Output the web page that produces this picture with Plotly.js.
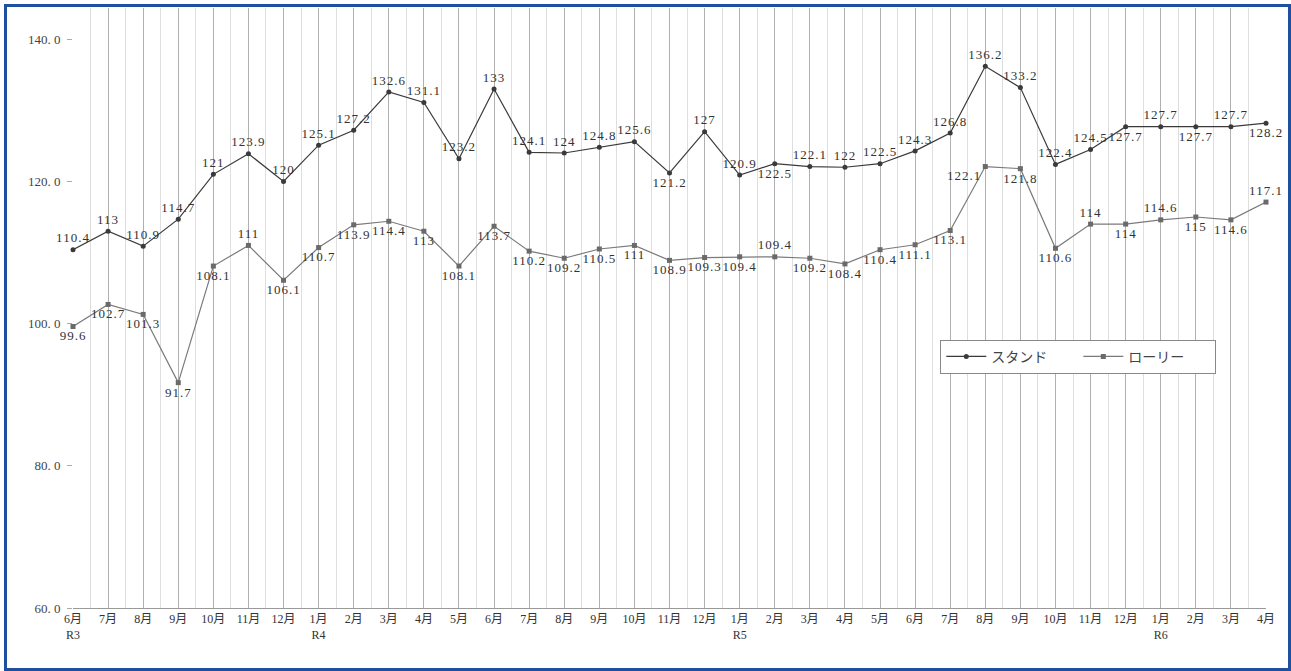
<!DOCTYPE html>
<html>
<head>
<meta charset="utf-8">
<script src="https://cdn.plot.ly/plotly-3.0.1.min.js"></script>
<style>
html,body{margin:0;padding:0;background:#fff;}
#frame{position:absolute;left:4px;top:4px;width:1287px;height:667px;border:3px solid #1f4f9f;box-sizing:border-box;}
#chart{position:absolute;left:7px;top:7px;width:1281px;height:661px;}
#chart .textpoint text{letter-spacing:1px;}
</style>
</head>
<body>
<div id="frame"></div>
<div id="chart"></div>
<script>
const months = ["6月","7月","8月","9月","10月","11月","12月",
  "1月","2月","3月","4月","5月","6月","7月","8月","9月","10月","11月","12月",
  "1月","2月","3月","4月","5月","6月","7月","8月","9月","10月","11月","12月",
  "1月","2月","3月","4月"];
const eraMarks = {0:"R3", 7:"R4", 19:"R5", 31:"R6"};
const stand = [110.4,113,110.9,114.7,121,123.9,120,
  125.1,127.2,132.6,131.1,123.2,133,124.1,124,124.8,125.6,121.2,127,
  120.9,122.5,122.1,122,122.5,124.3,126.8,136.2,133.2,122.4,124.5,127.7,
  127.7,127.7,127.7,128.2];
const lorry = [99.6,102.7,101.3,91.7,108.1,111,106.1,
  110.7,113.9,114.4,113,108.1,113.7,110.2,109.2,110.5,111,108.9,109.3,
  109.4,109.4,109.2,108.4,110.4,111.1,113.1,122.1,121.8,110.6,114,114,
  114.6,115,114.6,117.1];
const standPos = ["top center","top center","top center","top center","top center","top center","top center",
  "top center","top center","top center","top center","top center","top center","top center","top center","top center","top center","bottom center","top center",
  "top center","bottom center","top center","top center","top center","top center","top center","top center","top center","top center","top center","bottom center",
  "top center","bottom center","top center","bottom center"];
const lorryPos = ["bottom center","bottom center","bottom center","bottom center","bottom center","top center","bottom center",
  "bottom center","bottom center","bottom center","bottom center","bottom center","bottom center","bottom center","bottom center","bottom center","bottom center","bottom center","bottom center",
  "bottom center","top center","bottom center","bottom center","bottom center","bottom center","bottom center","bottom left","bottom center","bottom center","top center","bottom center",
  "top center","bottom center","bottom center","top center"];
const yTicks = [60,80,100,120,140];
const yTickText = ["60. 0","80. 0","100. 0","120. 0","140. 0"];

const idx = months.map((m,i)=>i);
const tickText = months.map((m,i)=> eraMarks[i] ? m + "<br>" + eraMarks[i] : m);
const FONT = "'Liberation Serif', 'Noto Sans CJK JP', serif";

const traces = [
  {x: idx, y: stand, name: "スタンド", type: "scatter", mode: "lines+markers+text",
   line: {color: "#3a3a3a", width: 1.2}, marker: {color: "#3a3a3a", size: 5, symbol: "circle"},
   text: stand.map(String), textposition: standPos,
   textfont: {family: FONT, size: 13, color: "#333"}, cliponaxis: false},
  {x: idx, y: lorry, name: "ローリー", type: "scatter", mode: "lines+markers+text",
   line: {color: "#7a7a7a", width: 1.2}, marker: {color: "#6a6a6a", size: 5, symbol: "square"},
   text: lorry.map(String), textposition: lorryPos,
   textfont: {family: FONT, size: 13, color: "#333"}, cliponaxis: false}
];

const layout = {
  width: 1281, height: 661,
  margin: {l: 66, r: 22, t: 1, b: 60, autoexpand: false},
  paper_bgcolor: "#fff", plot_bgcolor: "#fff",
  font: {family: FONT, size: 11, color: "#333"},
  showlegend: true,
  legend: {orientation: "h", x: 0.727, y: 0.447, xanchor: "left", yanchor: "top",
    bordercolor: "#888", borderwidth: 1, bgcolor: "#fff",
    font: {family: FONT, size: 14, color: "#444"}, itemwidth: 40, entrywidth: 82},
  xaxis: {
    range: [0, 34], tickmode: "array", tickvals: idx, ticktext: tickText,
    showgrid: true, gridcolor: "#b0b0b0", gridwidth: 1,
    minor: {tickmode: "linear", tick0: 0.5, dtick: 1, showgrid: true, gridcolor: "#dedede", gridwidth: 1},
    showline: true, linecolor: "#999", linewidth: 1, mirror: false,
    ticks: "", zeroline: false, tickfont: {family: FONT, size: 12, color: "#333"}
  },
  yaxis: {
    range: [60, 144.4], tickmode: "array", tickvals: yTicks, ticktext: yTickText,
    showgrid: false, zeroline: false, showline: false,
    ticks: "outside", ticklen: 5, tickcolor: "#aaa", ticklabelstandoff: 4,
    tickfont: {family: FONT, size: 13, color: "#444"}
  }
};
Plotly.newPlot("chart", traces, layout, {displayModeBar: false, staticPlot: true});
</script>
</body>
</html>
